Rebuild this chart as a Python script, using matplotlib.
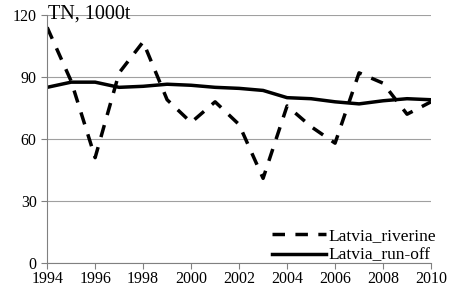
import matplotlib
matplotlib.use('Agg')
import matplotlib.pyplot as plt

years = list(range(1994, 2011))
riverine = [114, 88, 51, 92, 107, 79, 68, 78, 67, 41, 76, 66, 58, 92, 87, 72, 78]
runoff = [85, 87.5, 87.5, 85, 85.5, 86.5, 86, 85, 84.5, 83.5, 80, 79.5, 78, 77, 78.5, 79.5, 79]

plt.rcParams['font.family'] = 'Liberation Serif'

fig = plt.figure(figsize=(4.49, 2.99), dpi=100)
ax = fig.add_axes([0.105, 0.12, 0.855, 0.83])

ax.plot(years, riverine, color='black', lw=2.5, ls=(0, (3.6, 3)), label='Latvia_riverine')
ax.plot(years, runoff, color='black', lw=2.5, label='Latvia_run-off')

ax.set_xlim(1994, 2010)
ax.set_ylim(0, 120)
ax.set_xticks(range(1994, 2011, 2))
ax.set_yticks(range(0, 121, 30))
ax.grid(axis='y', color='#a0a0a0', lw=0.8)
ax.set_axisbelow(True)
for s in ['top', 'right']:
    ax.spines[s].set_visible(False)
for s in ['left', 'bottom']:
    ax.spines[s].set_color('#808080')
ax.tick_params(axis='both', colors='#808080', labelcolor='black', labelsize=11.5, length=4)
ax.tick_params(axis='x', pad=2)

ax.text(1994.05, 120.5, 'TN, 1000t', fontsize=14.5, va='center', ha='left')

ax.legend(loc='lower right', frameon=False, fontsize=12.5, handlelength=3.1,
          handletextpad=0.1, labelspacing=0.2, borderaxespad=0,
          bbox_to_anchor=(1.03, -0.03))

fig.savefig('out.png', dpi=100)
